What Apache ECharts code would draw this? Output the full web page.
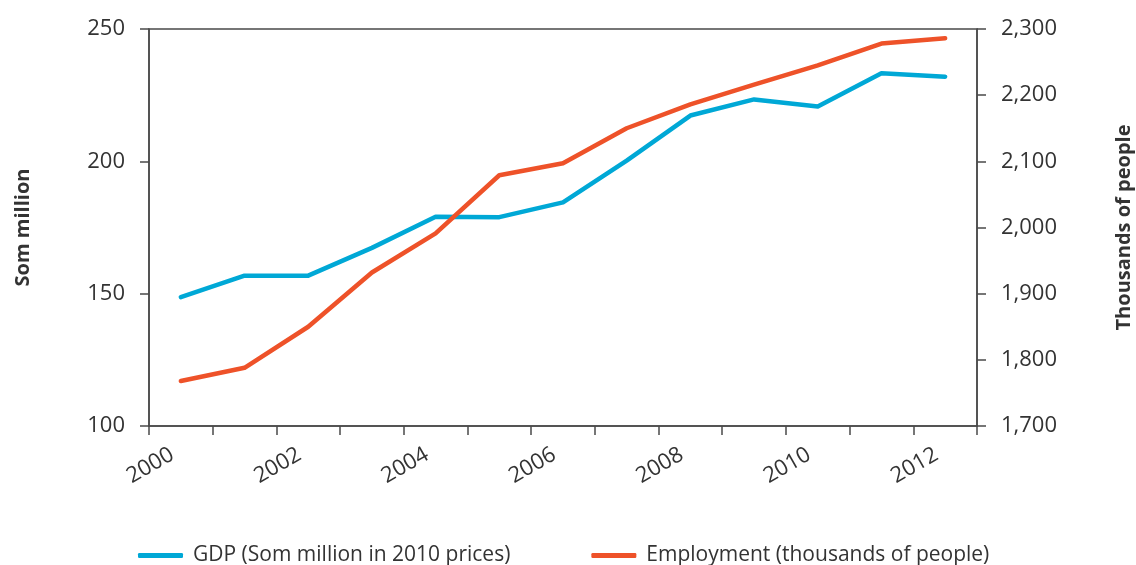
<!DOCTYPE html>
<html>
<head>
<meta charset="utf-8">
<script src="https://cdn.jsdelivr.net/npm/echarts@6/dist/echarts.min.js"></script>
<style>
html,body{margin:0;padding:0;background:#fff;}
#c{width:1136px;height:565px;}
</style>
</head>
<body>
<div id="c"></div>
<script>
const years = ['2000','2001','2002','2003','2004','2005','2006','2007','2008','2009','2010','2011','2012'];
const gdp = [148.7, 156.8, 156.8, 167.3, 179.1, 178.9, 184.5, 200.3, 217.3, 223.4, 220.7, 233.3, 232.0];
const employment = [1768, 1788, 1850, 1932, 1991, 2079, 2097, 2150, 2186, 2216, 2245, 2278, 2286];
const leftTicks = {min: 100, max: 250, interval: 50};
const rightTicks = {min: 1700, max: 2300, interval: 100};

const FONT = '"Open Sans", "Noto Sans", sans-serif';
const AX = '#4a4a4a';
const TXT = '#333333';

const chart = echarts.init(document.getElementById('c'), null, {renderer: 'canvas'});
chart.setOption({
  animation: false,
  backgroundColor: '#ffffff',
  grid: {left: 149, right: 159, top: 29, bottom: 139, show: true, borderColor: AX, borderWidth: 1.5,
         backgroundColor: 'transparent', containLabel: false, outerBoundsMode: 'none'},
  legend: {
    left: 133, top: 540,
    itemWidth: 45, itemHeight: 5, itemGap: 81,
    icon: 'roundRect',
    textStyle: {fontFamily: FONT, fontSize: 21, color: TXT, padding: [0, 0, 0, 5]},
    data: ['GDP (Som million in 2010 prices)', 'Employment (thousands of people)']
  },
  xAxis: {
    type: 'category',
    data: years,
    boundaryGap: true,
    axisLine: {lineStyle: {color: AX, width: 1.5}},
    axisTick: {show: true, interval: 0, length: 9, lineStyle: {color: AX, width: 1.5}},
    axisLabel: {interval: 1, rotate: 30, margin: 22, padding: [0, 10, 0, 0], fontFamily: FONT, fontSize: 22, color: TXT},
    splitLine: {show: false}
  },
  yAxis: [
    {
      type: 'value', position: 'left',
      min: leftTicks.min, max: leftTicks.max, interval: leftTicks.interval,
      name: 'Som million', nameLocation: 'middle', nameRotate: 90, nameGap: 116,
      nameTextStyle: {fontFamily: FONT, fontSize: 20, fontWeight: 'bold', color: TXT},
      axisLine: {show: true, lineStyle: {color: AX, width: 1.5}},
      axisTick: {show: true, length: 9, lineStyle: {color: AX, width: 1.5}},
      axisLabel: {margin: 24, fontFamily: FONT, fontSize: 22, color: TXT},
      splitLine: {show: false}
    },
    {
      type: 'value', position: 'right',
      min: rightTicks.min, max: rightTicks.max, interval: rightTicks.interval,
      name: 'Thousands of people', nameLocation: 'middle', nameRotate: 90, nameGap: 137,
      nameTextStyle: {fontFamily: FONT, fontSize: 20, fontWeight: 'bold', color: TXT},
      axisLine: {show: true, lineStyle: {color: AX, width: 1.5}},
      axisTick: {show: true, length: 9, lineStyle: {color: AX, width: 1.5}},
      axisLabel: {margin: 24, fontFamily: FONT, fontSize: 22, color: TXT,
        formatter: v => v.toLocaleString('en-US')},
      splitLine: {show: false}
    }
  ],
  series: [
    {
      name: 'GDP (Som million in 2010 prices)', type: 'line', yAxisIndex: 0,
      data: gdp, symbol: 'none', smooth: false,
      lineStyle: {color: '#00A8D6', width: 4.5, cap: 'round', join: 'round'},
      itemStyle: {color: '#00A8D6'}
    },
    {
      name: 'Employment (thousands of people)', type: 'line', yAxisIndex: 1,
      data: employment, symbol: 'none', smooth: false,
      lineStyle: {color: '#EE5229', width: 4.5, cap: 'round', join: 'round'},
      itemStyle: {color: '#EE5229'}
    }
  ]
});
</script>
</body>
</html>
